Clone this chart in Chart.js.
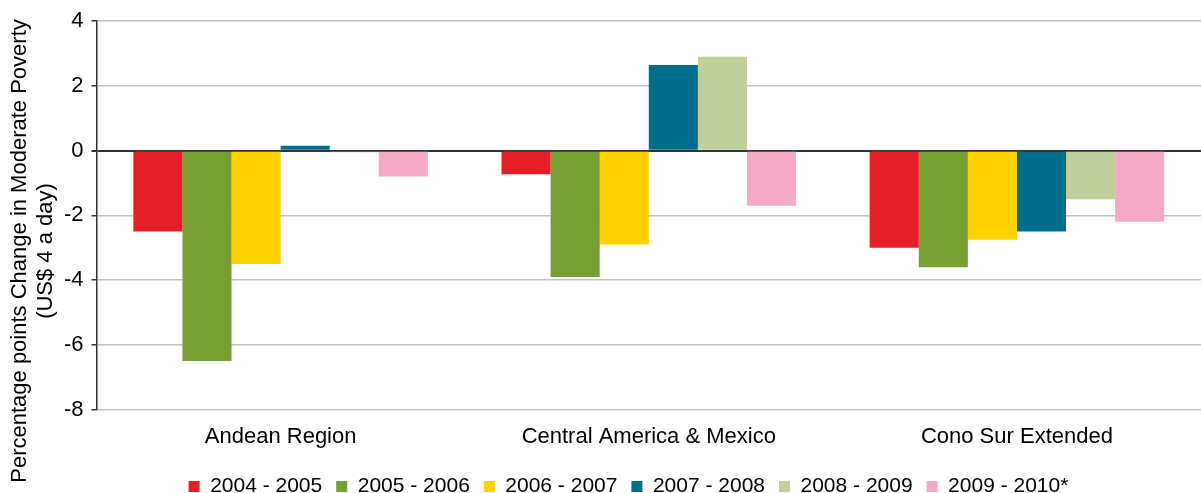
<!DOCTYPE html>
<html>
<head>
<meta charset="utf-8">
<script src="https://cdn.jsdelivr.net/npm/chart.js@4/dist/chart.umd.min.js"></script>
<style>
  body { margin: 0; background: #fff; }
  #wrap { width: 1201px; height: 493px; }
</style>
</head>
<body>
<div id="wrap"><canvas id="mycanvas" width="1201" height="493"></canvas></div>
<script>
var regions = ['Andean Region', 'Central America & Mexico', 'Cono Sur Extended'];
var periods = ['2004 - 2005', '2005 - 2006', '2006 - 2007', '2007 - 2008', '2008 - 2009', '2009 - 2010*'];
var p2004 = [-2.5, -0.73, -3.0];
var p2005 = [-6.5, -3.9, -3.6];
var p2006 = [-3.5, -2.9, -2.75];
var p2007 = [0.15, 2.65, -2.5];
var p2008 = [-0.05, 2.9, -1.5];
var p2009 = [-0.8, -1.7, -2.2];
var colors = ['#E31E24', '#77A032', '#FFD200', '#006E8C', '#BFD09A', '#F5A8C8'];
var yTitle = ['Percentage points Change in Moderate Poverty', '(US$ 4 a day)'];

var series = [p2004, p2005, p2006, p2007, p2008, p2009];
var datasets = [];
for (var i in series) {
  datasets.push({
    label: periods[i],
    backgroundColor: colors[i],
    borderColor: colors[i],
    data: series[i]
  });
}

// y title drawn centred on the whole canvas, like the original
var sideTitle = {
  id: 'sideTitle',
  afterDraw: function(chart) {
    var c = chart.ctx;
    c.save();
    c.fillStyle = '#000';
    c.font = '22px "Liberation Sans"';
    c.textAlign = 'center';
    c.textBaseline = 'middle';
    c.translate(20, 251);
    c.rotate(-Math.PI / 2);
    c.fillText(yTitle[0], 0, 0);
    c.fillText(yTitle[1], 0, 26);
    c.restore();
  }
};

var ctx = document.getElementById('mycanvas');
var barGraph = new Chart(ctx, {
  type: 'bar',
  data: { labels: regions, datasets: datasets },
  plugins: [sideTitle],
  options: {
    responsive: false,
    animation: false,
    layout: { padding: { left: 56, right: 0, top: 0, bottom: -14 } },
    datasets: { bar: { categoryPercentage: 0.8, barPercentage: 1.0 } },
    plugins: {
      tooltip: { enabled: false },
      legend: {
        position: 'bottom',
        labels: {
          boxWidth: 11, boxHeight: 11, padding: 14,
          color: '#000',
          font: { family: 'Liberation Sans', size: 21 }
        }
      }
    },
    scales: {
      x: {
        grid: { display: false },
        border: { display: false },
        ticks: { color: '#000', font: { family: 'Liberation Sans', size: 22 }, padding: 6 },
        afterFit: function(axis) { axis.height += 6; }
      },
      y: {
        min: -8, max: 4,
        ticks: { stepSize: 2, color: '#000', font: { family: 'Liberation Sans', size: 22 }, padding: 8 },
        grid: {
          color: function(c) { return c.tick && c.tick.value === 0 ? '#333' : '#c0c0c0'; },
          lineWidth: function(c) { return c.tick && c.tick.value === 0 ? 2 : 1.5; },
          tickColor: '#333',
          tickLength: 5
        },
        border: { display: true, color: '#333', width: 1.5 }
      }
    }
  }
});
</script>
</body>
</html>
